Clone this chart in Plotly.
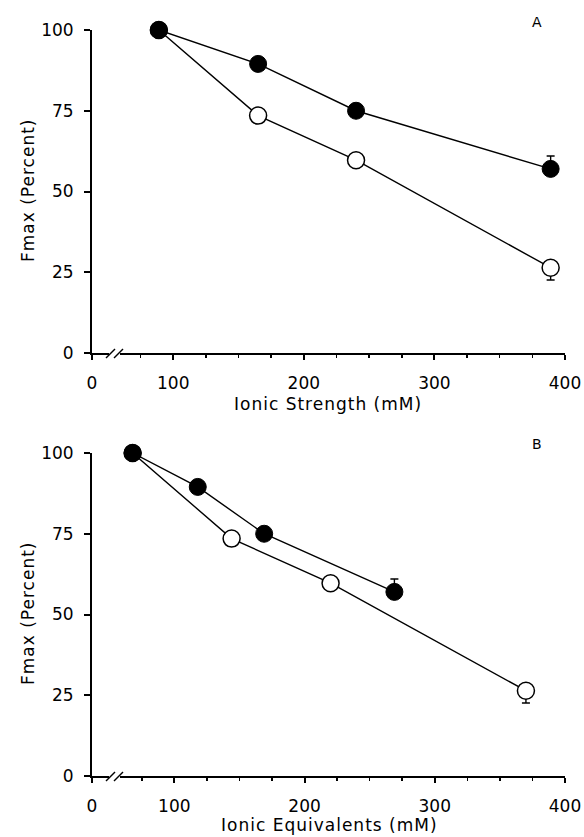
import plotly.graph_objects as go

# ---------------- data ----------------
strength_filled_x = [89, 165, 240, 389]
strength_open_x = [89, 165, 240, 389]
equiv_filled_x = [68, 118, 169, 269]
equiv_open_x = [68, 144, 220, 370]
filled_y = [100, 89.5, 75, 57]
open_y = [100, 73.5, 59.7, 26.4]
filled_err_plus = [0, 0, 0, 4]
open_err_minus = [0, 0, 0, 3.8]
y_ticks = [0, 25, 50, 75, 100]
x_major = [100, 200, 300, 400]
x_tick_labels = ["0", "100", "200", "300", "400"]
x_minor = [75, 125, 150, 175, 225, 250, 275, 325, 350, 375]
top_xmin = 37.8
bot_xmin = 36.8

W, H = 584, 837
FONT = "DejaVu Sans"

def px(x):
    return x / W

def py(y):
    return 1 - y / H

def spaced(s, sp):
    return '<span style="letter-spacing:%spx">%s</span>' % (sp, s)

fig = go.Figure()

def add_panel(xa, ya, fx, ox):
    fig.add_trace(go.Scatter(
        x=ox, y=open_y, xaxis=xa, yaxis=ya, mode="lines+markers",
        line=dict(color="black", width=1.4),
        marker=dict(size=17, color="white", line=dict(color="black", width=1.5)),
        error_y=dict(type="data", symmetric=False, array=[0]*len(open_y),
                     arrayminus=open_err_minus, color="black", thickness=1.4, width=4),
        cliponaxis=False, showlegend=False, hoverinfo="skip"))
    fig.add_trace(go.Scatter(
        x=fx, y=filled_y, xaxis=xa, yaxis=ya, mode="lines+markers",
        line=dict(color="black", width=1.4),
        marker=dict(size=17, color="black", line=dict(color="black", width=1)),
        error_y=dict(type="data", symmetric=False, array=filled_err_plus,
                     arrayminus=[0]*len(filled_y), color="black", thickness=1.4, width=4),
        cliponaxis=False, showlegend=False, hoverinfo="skip"))

add_panel("x", "y", strength_filled_x, strength_open_x)
add_panel("x2", "y2", equiv_filled_x, equiv_open_x)

xdom = [px(92), px(565)]
top_dom = [py(353), py(30)]
bot_dom = [py(776), py(453)]

def xaxis(xmin, anchor):
    return dict(
        domain=xdom, anchor=anchor, range=[xmin, 400],
        tickvals=[xmin] + x_major, ticktext=x_tick_labels,
        ticks="outside", ticklen=5, tickwidth=2, tickcolor="black",
        showline=True, linecolor="black", linewidth=2,
        showgrid=False, zeroline=False, automargin=False,
        ticklabelstandoff=9,
        tickfont=dict(family=FONT, size=17, color="black"),
        minor=dict(tickvals=x_minor, ticks="outside", ticklen=3,
                   tickwidth=1.5, tickcolor="black", showgrid=False),
    )

def yaxis(dom, anchor):
    return dict(
        domain=dom, anchor=anchor, range=[0, 100],
        tickvals=y_ticks, ticks="outside", ticklen=6, tickwidth=2,
        tickcolor="black", showline=True, linecolor="black", linewidth=2,
        showgrid=False, zeroline=False, automargin=False,
        ticklabelstandoff=7,
        tickfont=dict(family=FONT, size=17, color="black"),
    )

fig.update_layout(
    width=W, height=H,
    margin=dict(l=0, r=0, t=0, b=0),
    paper_bgcolor="white", plot_bgcolor="white",
    xaxis=xaxis(top_xmin, "y"), yaxis=yaxis(top_dom, "x"),
    xaxis2=xaxis(bot_xmin, "y2"), yaxis2=yaxis(bot_dom, "x2"),
    font=dict(family=FONT, color="black"),
    hovermode=False,
)

anns = [
    dict(text=spaced("Fmax (Percent)", 1), x=px(28), y=py(191), textangle=-90),
    dict(text=spaced("Fmax (Percent)", 1), x=px(28), y=py(614), textangle=-90),
    dict(text=spaced("Ionic Strength (mM)", 1), x=px(328), y=py(404)),
    dict(text=spaced("Ionic Equivalents (mM)", 1), x=px(329), y=py(825)),
]
for a in anns:
    fig.add_annotation(xref="paper", yref="paper", showarrow=False,
                       xanchor="center", yanchor="middle",
                       font=dict(family=FONT, size=17, color="black"), **a)
for t, yy in (("A", 22), ("B", 444)):
    fig.add_annotation(text=t, xref="paper", yref="paper", x=px(537), y=py(yy),
                       showarrow=False, xanchor="center", yanchor="middle",
                       font=dict(family=FONT, size=14, color="black"))

# axis break marks
for ybase in (353, 776):
    fig.add_shape(type="line", xref="paper", yref="paper",
                  x0=px(109), x1=px(120), y0=py(ybase), y1=py(ybase),
                  line=dict(color="white", width=5))
    for dx in (0, 8):
        fig.add_shape(type="line", xref="paper", yref="paper",
                      x0=px(106 + dx), y0=py(ybase + 5),
                      x1=px(115 + dx), y1=py(ybase - 4),
                      line=dict(color="black", width=1.5))

fig.write_html(
    "out.html",
    config={"displayModeBar": False, "staticPlot": True},
    post_script="document.body.style.margin='0';document.body.style.overflow='hidden';",
)
